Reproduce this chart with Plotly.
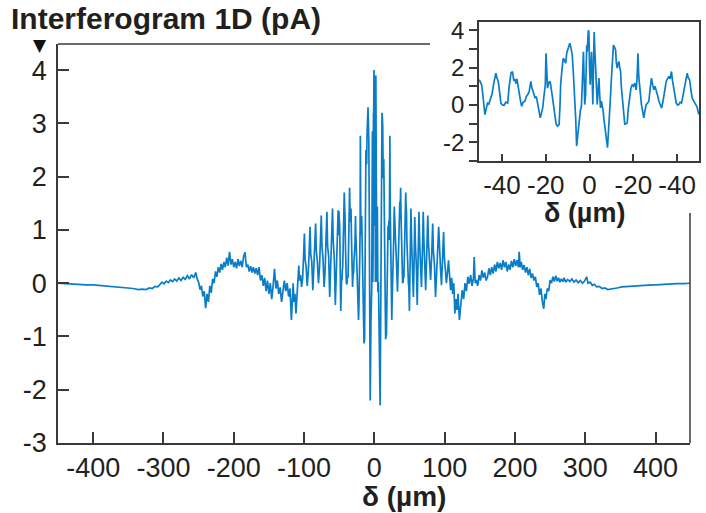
import plotly.graph_objects as go

# Interferogram samples: optical path difference (µm) and detector current (pA)
delta_left = [
    -450, -440, -430, -420, -410, -400, -390, -380, -370, -360, -350, -343, -336, -330, -325,
    -320, -316, -312, -308, -305, -302, -299, -296, -293, -290, -287, -284, -281, -278, -275,
    -272, -269, -266, -263, -260, -257, -254, -252, -250, -248, -246, -244, -242, -240, -238,
    -236, -234, -232, -230, -228, -226, -224, -222, -220, -218, -216, -214, -212, -210, -208,
    -206, -204, -202, -200, -198, -196, -194, -192, -190, -188, -186, -184, -182, -180, -178,
    -176, -174, -172, -170, -168, -166, -164, -162, -160, -158, -156, -154, -152, -150, -148,
    -146, -144, -142, -140, -138, -136, -134, -132, -130, -128, -126, -124, -122, -120, -118,
    -116.5, -115.5, -114.5, -113, -111.5, -110, -108.8, -107.5, -106.5, -105, -103.5, -102,
    -100.7, -99.5, -98.5, -97, -95.5, -94, -92.7, -91.5, -90.5, -89, -87.5, -86, -84.7, -83.5,
    -82.5, -81, -79.5, -78, -76.7, -75.5, -74.5, -73, -71.5, -70, -68.7, -67.5, -66.5, -65,
    -63.5, -62, -60.7, -59.5, -58.5, -57, -55.5, -54, -52.7, -51.5, -50.6,
]
signal_left = [
    0.00, -0.01, -0.01, -0.02, -0.03, -0.03, -0.04, -0.05, -0.06, -0.07, -0.08, -0.10, -0.12, -0.11, -0.12,
    -0.09, -0.10, -0.06, -0.07, -0.02, 0.02, -0.01, 0.04, 0.01, 0.06, 0.03, 0.08, 0.04, 0.10, 0.05,
    0.11, 0.07, 0.14, 0.08, 0.16, 0.10, 0.20, 0.08, 0.02, -0.12, -0.05, -0.25, -0.15, -0.47, -0.20,
    -0.35, -0.05, -0.18, 0.08, 0.00, 0.22, 0.12, 0.30, 0.20, 0.36, 0.25, 0.40, 0.30, 0.48, 0.33,
    0.59, 0.35, 0.45, 0.30, 0.40, 0.28, 0.45, 0.32, 0.42, 0.30, 0.50, 0.58, 0.30, 0.35, 0.22,
    0.32, 0.20, 0.30, 0.18, 0.28, 0.15, 0.30, 0.05, 0.15, -0.05, 0.10, -0.15, 0.05, -0.20, 0.00,
    -0.30, -0.05, 0.27, -0.10, 0.05, -0.20, -0.08, -0.35, -0.10, 0.05, -0.15, 0.00, -0.25, -0.10, -0.69,
    -0.30, 0.00, -0.35, -0.20, -0.57, -0.30, 0.10, 0.33, 0.05, 0.15, -0.07, 0.10,
    0.50, 0.93, 0.45, 0.30, -0.05, 0.20, 0.60, 1.06, 0.55, 0.40, -0.13, 0.25, 0.70, 1.12,
    0.60, 0.40, 0.00, 0.30, 0.80, 1.27, 0.70, 0.45, -0.07, 0.25, 0.85, 1.34, 0.70, 0.50,
    -0.26, 0.30, 0.90, 1.40, 0.80, 0.45, -0.41, 0.20, 0.85, 1.37, 0.90,
]

delta_center = [
    -50.4, -49.9, -49.3, -48.8, -48.3, -47.8, -47.2, -46.6, -46.0, -45.5, -45.1, -44.5, -44.0, -43.6,
    -42.8, -42.3, -41.7, -41.1, -40.5, -39.8, -39.0, -38.3, -37.4, -36.8, -36.3, -35.9, -35.2, -34.6,
    -34.1, -33.6, -33.2, -32.6, -32.1, -31.5, -31.0, -30.3, -29.5, -28.9, -28.3, -27.6, -27.2, -26.8,
    -26.4, -26.0, -25.4, -24.9, -24.3, -23.7, -23.1, -22.5, -22.0, -21.4, -21.0, -20.7, -20.2, -19.9,
    -19.6, -19.2, -18.6, -18.0, -17.4, -16.9, -16.4, -15.9, -15.3, -14.7, -13.9, -13.5, -13.2, -12.6,
    -12.0, -11.5, -10.9, -10.4, -9.9, -9.4, -9.0, -8.4, -7.9, -7.3, -6.8, -6.3, -5.9, -5.4, -4.8,
    -4.2, -3.7, -3.3, -2.8, -2.5, -2.2, -1.8, -1.3, -1.06, -0.56, -0.3, 0.0, 0.3, 0.6, 0.9, 1.2,
    1.5, 1.8, 2.1, 2.4, 2.7, 3.1, 3.5, 3.9, 4.3, 4.6, 5.0, 5.4, 5.8, 6.2, 6.5, 7.0, 7.6, 8.2, 8.6,
    9.1, 9.5, 10.0, 10.4, 10.9, 11.4, 11.9, 12.2, 12.6, 13.0, 13.4, 13.8, 14.2, 14.5, 14.9, 15.5,
    16.1, 16.6, 17.2, 17.7, 18.3, 18.9, 19.5, 20.1, 20.7, 21.3, 21.7, 22.1, 22.5, 22.8, 23.2, 23.7,
    24.2, 24.8, 25.3, 25.9, 26.5, 27.1, 27.7, 28.3, 28.8, 29.4, 29.9, 30.4, 31.0, 31.7, 32.3, 32.9,
    33.4, 33.9, 34.4, 35.0, 35.6, 36.2, 36.8, 37.4, 37.9, 38.5, 39.0, 39.6, 40.2, 40.8, 41.4, 42.0,
    42.7, 43.5, 44.0, 44.6, 45.1, 45.7, 46.3, 46.9, 47.6, 48.4, 49.1, 49.9,
]
signal_center = [
    1.35, 1.20, 1.08, 0.60, 0.10, -0.52, -0.20, 0.10, 0.05, 0.25, 0.28, 0.60, 1.00, 1.26,
    1.70, 1.45, 1.26, 0.70, 0.10, 0.00, -0.02, 0.15, 0.10, 0.90, 1.40, 1.70, 1.79, 1.30,
    1.35, 1.15, 1.40, 0.90, 0.55, 0.20, -0.07, 0.15, 0.20, 0.45, 0.55, 0.70, 1.00, 1.26,
    0.95, 0.81, 0.55, 0.37, 0.45, 0.02, -0.20, -0.69, -0.45, -0.16, 0.30, 0.55, 1.10, 2.77,
    1.30, 0.90, 1.20, 1.26, 0.80, 0.37, -0.10, -0.69, -1.00, -1.13, -1.05, 0.00, 1.08, 1.90,
    2.50, 2.40, 2.23, 2.80, 3.03, 3.10, 3.30, 3.00, 2.68, 1.50, 0.55, -0.80, -2.20, -1.50, -0.69,
    -0.30, -0.07, 1.20, 2.85, 1.50, 0.02, 0.55, 3.20, 2.85, 4.00, 3.90, 2.00, 1.08, 2.00, 2.85, 1.50,
    0.02, 2.00, 3.90, 3.00, 1.97, 1.00, 0.02, 0.80, 1.44, 0.60, -0.16, 0.20, 0.02, -0.30, -0.69, -1.10, -1.58, -2.29, -1.50,
    -0.69, 0.30, 1.44, 2.40, 3.20, 3.10, 2.94, 2.30, 1.97, 2.20, 2.33, 2.00, 1.79, 1.00, 0.37, -0.40,
    -1.05, -1.00, -0.96, -0.20, 0.55, 0.90, 1.08, 1.00, 1.17, 0.81, 1.40, 2.77, 1.50, 1.08, 0.60, 0.02,
    -0.30, -0.69, -0.30, 0.02, 0.10, 0.20, 0.90, 1.44, 1.10, 0.81, 1.00, 0.72, 0.55, 0.20, 0.05, -0.16,
    0.10, 0.37, 0.80, 1.26, 1.40, 1.53, 1.40, 1.79, 1.30, 0.90, 0.40, 0.10, 0.00, 0.02, 0.15, 0.10,
    0.50, 1.08, 1.40, 1.70, 1.45, 1.35, 0.80, 0.37, 0.20, 0.02, -0.10, -0.52,
]

delta_right = [
    50.8, 52.0, 53.0, 54.3, 55.5, 56.5, 57.5, 58.5, 59.8, 61.0, 62.3, 63.5, 64.5, 65.8, 67.0,
    68.3, 69.5, 70.5, 71.8, 73.0, 74.5, 76.0, 77.0, 78.5, 80.0, 81.5, 83.0, 84.0, 85.5, 87.0,
    88.5, 90.0, 91.5, 92.5, 94.0, 95.5, 97.0, 98.5, 99.5, 101.0, 102.5, 104.0, 105.5, 107.0, 108.5,
    110.0, 111.5, 113.0, 114.5, 116.0, 117.5, 119.0, 121.0, 123, 125, 127, 129, 131, 133, 135,
    137, 139, 141, 142, 143.5, 145, 147, 149, 151, 153, 155, 157, 159, 161, 163,
    165, 167, 169, 171, 173, 175, 177, 179, 181, 183, 185, 187, 189, 191, 193,
    195, 197, 199, 201, 203, 205, 206, 207.5, 209, 211, 213, 215, 217, 219, 221,
    223, 225, 227, 229, 231, 233, 235, 237, 239, 241, 242.5, 244, 246, 248, 250,
    252, 254, 256, 258, 260, 262, 264, 266, 268, 270, 272, 275, 278, 281, 284,
    287, 290, 293, 296, 299, 302, 304, 307, 310, 313, 316, 320, 324, 328, 332,
    338, 345, 352, 360, 370, 380, 390, 400, 410, 420, 430, 440, 450,
]
signal_right = [
    0.30, 1.40, 0.80, 0.40, -0.26, 0.40, 1.24, 0.70, 0.30, -0.41, 0.50, 1.34, 0.75, 0.40, -0.07,
    0.55, 1.34, 0.80, 0.45, -0.13, 0.55, 1.27, 0.75, 0.45, 0.06, 0.50, 1.12, 0.60, 0.35, -0.26,
    0.35, 0.60, 1.06, 0.55, 0.30, -0.04, 0.40, 0.96, 0.50, 0.25, 0.00, 0.20, 0.43, 0.15, -0.13,
    0.10, -0.20, 0.00, -0.57, -0.30, -0.50, -0.20, -0.69, -0.40, -0.13, -0.30, 0.00, -0.15, 0.12, -0.01,
    0.15, -0.05, 0.10, 0.49, 0.00, 0.06, -0.05, 0.15, 0.05, 0.24, 0.10, 0.20, 0.05, 0.12, 0.28,
    0.15, 0.30, 0.18, 0.35, 0.22, 0.40, 0.28, 0.38, 0.25, 0.43, 0.30, 0.40, 0.22, 0.35, 0.25,
    0.42, 0.30, 0.45, 0.32, 0.43, 0.30, 0.59, 0.30, 0.40, 0.25, 0.34, 0.20, 0.30, 0.15, 0.27,
    0.10, 0.18, 0.05, 0.12, -0.07, 0.00, -0.22, -0.10, -0.35, -0.48, -0.20, -0.30, -0.10, -0.15, 0.06,
    0.00, 0.12, 0.03, 0.14, 0.04, 0.10, 0.02, 0.08, 0.03, 0.10, 0.02, 0.07, 0.03, 0.08, 0.02,
    0.06, 0.01, 0.05, 0.00, 0.04, 0.12, 0.00, 0.02, -0.04, -0.02, -0.07, -0.06, -0.10, -0.09, -0.12,
    -0.10, -0.09, -0.07, -0.06, -0.05, -0.04, -0.035, -0.03, -0.02, -0.02, -0.01, -0.01, 0.00,
]

main_xticks = [-400, -300, -200, -100, 0, 100, 200, 300, 400]
main_xticktext = ["-400", "-300", "-200", "-100", "0", "100", "200", "300", "400"]
main_yticks = [-3, -2, -1, 0, 1, 2, 3, 4]
main_yticktext = ["-3", "-2", "-1", "0", "1", "2", "3", "4"]
inset_xticks = [-40, -20, 0, 20, 40]
inset_xticktext = ["-40", "-20", "0", "-20", "-40"]
inset_yticks = [-2, 0, 2, 4]
inset_yticktext = ["-2", "0", "2", "4"]

LINE = "#0a7dc8"
AXIS = "#3a3a3a"
TEXT = "#231f20"
FONT = "Liberation Sans, Arial, sans-serif"

delta_all = delta_left + delta_center + delta_right
signal_all = signal_left + signal_center + signal_right

fig = go.Figure()
fig.add_trace(go.Scatter(x=delta_all, y=signal_all, mode="lines",
                         line=dict(color=LINE, width=1.7), xaxis="x", yaxis="y",
                         showlegend=False, hoverinfo="skip"))
fig.add_trace(go.Scatter(x=delta_center, y=signal_center, mode="lines",
                         line=dict(color=LINE, width=1.7), xaxis="x2", yaxis="y2",
                         showlegend=False, hoverinfo="skip"))

W, H = 706, 513
main_l, main_r, main_t, main_b = 58, 690, 44, 443
ins_l, ins_r, ins_t, ins_b = 479, 699, 22, 161

fig.update_layout(
    width=W, height=H, margin=dict(l=0, r=0, t=0, b=0, autoexpand=False),
    paper_bgcolor="white", plot_bgcolor="white",
    font=dict(family=FONT, size=27, color=TEXT),
    xaxis=dict(domain=[main_l / W, main_r / W], range=[-450, 449], automargin=False,
               tickvals=main_xticks, ticktext=main_xticktext,
               ticks="inside", ticklen=11, tickwidth=1.5, tickcolor=AXIS,
               showline=True, linecolor=AXIS, linewidth=1.5, mirror=False,
               showgrid=False, zeroline=False, tickfont=dict(size=27)),
    yaxis=dict(domain=[1 - main_b / H, 1 - main_t / H], range=[-3, 4.49], automargin=False,
               tickvals=main_yticks, ticktext=main_yticktext,
               ticks="inside", ticklen=11, tickwidth=1.5, tickcolor=AXIS,
               showline=True, linecolor=AXIS, linewidth=1.5, mirror=False,
               showgrid=False, zeroline=False, tickfont=dict(size=27),
               ticklabelstandoff=4),
    xaxis2=dict(domain=[ins_l / W, ins_r / W], range=[-50.5, 50], anchor="y2", automargin=False,
                tickvals=inset_xticks, ticktext=inset_xticktext,
                ticks="inside", ticklen=7, tickwidth=1.5, tickcolor=AXIS,
                showline=True, linecolor=AXIS, linewidth=1.5, mirror=True,
                showgrid=False, zeroline=False, tickfont=dict(size=26)),
    yaxis2=dict(domain=[1 - ins_b / H, 1 - ins_t / H], range=[-3, 4.44], anchor="x2", automargin=False,
                tickvals=inset_yticks, ticktext=inset_yticktext,
                ticks="outside", ticklen=8, tickwidth=1.5, tickcolor=AXIS,
                minor=dict(dtick=1, tick0=0, ticks="outside", ticklen=8, tickwidth=1.5, tickcolor=AXIS),
                showline=True, linecolor=AXIS, linewidth=1.5, mirror=True,
                showgrid=False, zeroline=False, tickfont=dict(size=24)),
)

# Open frame of the main panel: top edge runs up to the inset, right edge starts below it
fig.add_shape(type="line", xref="paper", yref="paper",
              x0=main_l / W, x1=430 / W, y0=1 - main_t / H, y1=1 - main_t / H,
              line=dict(color=AXIS, width=1.5))
fig.add_shape(type="line", xref="paper", yref="paper",
              x0=main_r / W, x1=main_r / W, y0=1 - main_b / H, y1=1 - 213 / H,
              line=dict(color=AXIS, width=1.5))

# Titles and axis labels
fig.add_annotation(text="<b>Interferogram 1D (pA)</b>", xref="paper", yref="paper",
                   x=9 / W, y=1 - 18 / H, xanchor="left", yanchor="middle", showarrow=False,
                   font=dict(size=30, color=TEXT))
fig.add_annotation(text="▼", xref="paper", yref="paper", x=40 / W, y=1 - 45 / H,
                   xanchor="center", yanchor="middle", showarrow=False,
                   font=dict(size=17, color="#111", family="DejaVu Sans"))
fig.add_annotation(text="<b>δ (µm)</b>", xref="paper", yref="paper",
                   x=404 / W, y=1 - 496 / H, xanchor="center", yanchor="middle", showarrow=False,
                   font=dict(size=28, color=TEXT))
fig.add_annotation(text="<b>δ (µm)</b>", xref="paper", yref="paper",
                   x=584 / W, y=1 - 213 / H, xanchor="center", yanchor="middle", showarrow=False,
                   font=dict(size=27, color=TEXT))

fig.write_html("out.html")
